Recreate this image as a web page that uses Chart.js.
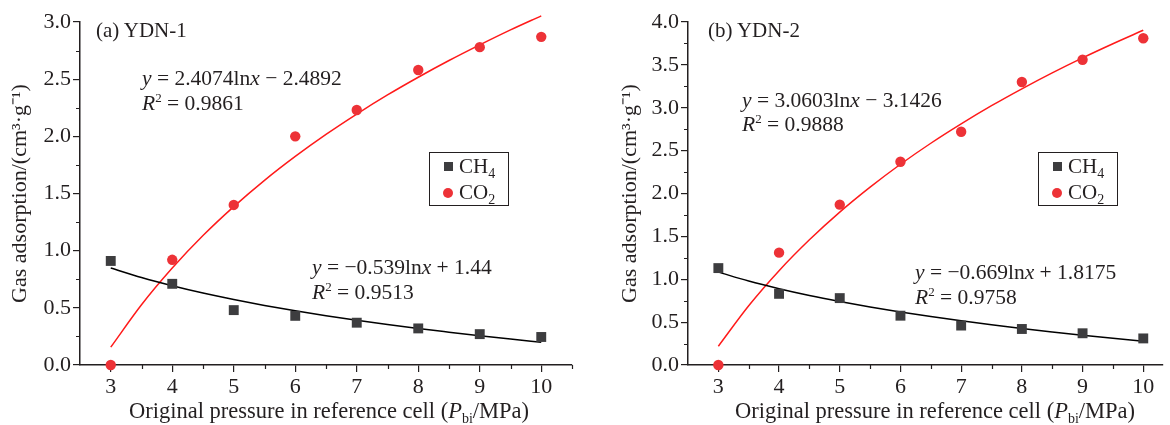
<!DOCTYPE html>
<html>
<head>
<meta charset="utf-8">
<script src="https://cdn.jsdelivr.net/npm/chart.js@4.4.1/dist/chart.umd.min.js"></script>
<style>
  body { margin: 0; width: 1170px; height: 425px; overflow: hidden; background: #fff; font-family: "Liberation Serif", "Times New Roman", serif; color: #231f20; }
  .panel { position: absolute; top: 0; height: 425px; }
  .txt { position: absolute; font-size: 21.5px; line-height: 24px; white-space: nowrap; }
  .txt.big { font-size: 22.5px; }
  .txt.lbl { font-size: 21px; }
  sup { font-size: 13px; vertical-align: 8px; line-height: 0; }
  sub { font-size: 14px; vertical-align: -5px; line-height: 0; }
  .legend { position: absolute; width: 78px; height: 52px; border: 1.5px solid #231f20; background: #fff; }
  .legend .row { position: absolute; left: 0; height: 24px; font-size: 21px; line-height: 24px; }
  .legend .mk { position: absolute; }
  .legend .sq { width: 9px; height: 9px; background: #3d3d3f; left: 14px; top: 8px; }
  .legend .ci { width: 10px; height: 10px; border-radius: 50%; background: #ed3237; left: 13px; top: 8px; }
  .legend .lab { position: absolute; left: 29px; top: 0; }
</style>
</head>
<body>
<div class="panel" style="left:0;width:590px"><canvas id="chart-a"></canvas></div>
<div class="panel" style="left:590px;width:580px"><canvas id="chart-b"></canvas></div>

<div class="txt lbl" style="left:96px;top:18px">(a) YDN-1</div>
<div class="txt" style="left:142px;top:66px"><i>y</i> = 2.4074ln<i>x</i> − 2.4892</div>
<div class="txt" style="left:142px;top:91px"><i>R</i><sup>2</sup> = 0.9861</div>
<div class="txt" style="left:312px;top:255px"><i>y</i> = −0.539ln<i>x</i> + 1.44</div>
<div class="txt" style="left:312px;top:280px"><i>R</i><sup>2</sup> = 0.9513</div>
<div class="legend" style="left:429px;top:152px">
  <div class="row" style="top:1px"><span class="mk sq"></span><span class="lab">CH<sub>4</sub></span></div>
  <div class="row" style="top:27px"><span class="mk ci"></span><span class="lab">CO<sub>2</sub></span></div>
</div>
<div class="txt big" style="left:329px;top:399px;transform:translateX(-50%)">Original pressure in reference cell (<i>P</i><sub>bi</sub>/MPa)</div>

<div class="txt lbl" style="left:708px;top:18px">(b) YDN-2</div>
<div class="txt" style="left:742px;top:88px"><i>y</i> = 3.0603ln<i>x</i> − 3.1426</div>
<div class="txt" style="left:742px;top:112px"><i>R</i><sup>2</sup> = 0.9888</div>
<div class="txt" style="left:915px;top:260px"><i>y</i> = −0.669ln<i>x</i> + 1.8175</div>
<div class="txt" style="left:915px;top:285px"><i>R</i><sup>2</sup> = 0.9758</div>
<div class="legend" style="left:1038px;top:152px">
  <div class="row" style="top:1px"><span class="mk sq"></span><span class="lab">CH<sub>4</sub></span></div>
  <div class="row" style="top:27px"><span class="mk ci"></span><span class="lab">CO<sub>2</sub></span></div>
</div>
<div class="txt big" style="left:935px;top:399px;transform:translateX(-50%)">Original pressure in reference cell (<i>P</i><sub>bi</sub>/MPa)</div>

<script>
// measured points (pressure in MPa -> adsorption cm3/g)
const pressures = [3, 4, 5, 6, 7, 8, 9, 10];
const ch4A = [0.91, 0.71, 0.48, 0.43, 0.37, 0.32, 0.27, 0.245];
const co2A = [0.0, 0.92, 1.40, 2.00, 2.23, 2.58, 2.78, 2.87];
const ch4B = [1.13, 0.83, 0.78, 0.575, 0.46, 0.42, 0.37, 0.31];
const co2B = [0.0, 1.31, 1.87, 2.37, 2.72, 3.30, 3.56, 3.81];

// fitted log curves, read at half-MPa steps
const fitX = [3, 3.5, 4, 4.5, 5, 5.5, 6, 6.5, 7, 7.5, 8, 8.5, 9, 9.5, 10];
const ch4FitA = [0.848, 0.765, 0.693, 0.629, 0.573, 0.521, 0.474, 0.431, 0.391, 0.354, 0.319, 0.287, 0.256, 0.227, 0.199];
const co2FitA = [0.156, 0.527, 0.848, 1.132, 1.385, 1.615, 1.824, 2.017, 2.195, 2.362, 2.517, 2.663, 2.800, 2.931, 3.054];
const ch4FitB = [1.083, 0.979, 0.890, 0.811, 0.741, 0.677, 0.619, 0.565, 0.516, 0.470, 0.426, 0.386, 0.348, 0.311, 0.277];
const co2FitB = [0.219, 0.691, 1.100, 1.460, 1.783, 2.074, 2.341, 2.586, 2.812, 3.024, 3.221, 3.407, 3.582, 3.747, 3.904];

const xTicks = [3, 4, 5, 6, 7, 8, 9, 10];
const xMinorA = [3.5, 4.5, 5.5, 6.5, 7.5, 8.5, 9.5, 10.5];
const xMinorB = [3.5, 4.5, 5.5, 6.5, 7.5, 8.5, 9.5];
const yTicksA = [0, 0.5, 1.0, 1.5, 2.0, 2.5, 3.0];
const yMinorA = [0.25, 0.75, 1.25, 1.75, 2.25, 2.75];
const yTicksB = [0, 0.5, 1.0, 1.5, 2.0, 2.5, 3.0, 3.5, 4.0];
const yMinorB = [0.25, 0.75, 1.25, 1.75, 2.25, 2.75, 3.25, 3.75];

const INK = "#231f20";
const FONT = "'Liberation Serif', 'Times New Roman', serif";

const minorTicks = {
  id: "minorTicks",
  afterDraw(chart, args, opts) {
    const { ctx, scales: { x, y } } = chart;
    ctx.save();
    ctx.strokeStyle = INK;
    ctx.lineWidth = 1.2;
    ctx.beginPath();
    for (const v of opts.x) {
      const px = Math.round(x.getPixelForValue(v)) + 0.5;
      ctx.moveTo(px, x.top); ctx.lineTo(px, x.top + 4);
    }
    for (const v of opts.y) {
      const py = Math.round(y.getPixelForValue(v)) + 0.5;
      ctx.moveTo(y.right, py); ctx.lineTo(y.right - 4, py);
    }
    ctx.stroke();
    ctx.restore();
  }
};

function pts(xs, ys) { return xs.map((x, i) => ({ x, y: ys[i] })); }

function drawPanel(id, p) {
  new Chart(document.getElementById(id), {
    type: "scatter",
    data: {
      datasets: [
        { data: pts(pressures, p.ch4), pointStyle: "rect", pointRadius: 7, backgroundColor: "#3d3d3f", borderWidth: 0, clip: false },
        { data: pts(pressures, p.co2), pointStyle: "circle", pointRadius: 5.2, backgroundColor: "#ed3237", borderWidth: 0, clip: false },
        { type: "line", data: pts(fitX, p.ch4Fit), borderColor: "#000", borderWidth: 1.5, pointRadius: 0, cubicInterpolationMode: "monotone", fill: false, clip: false },
        { type: "line", data: pts(fitX, p.co2Fit), borderColor: "#ff1a1a", borderWidth: 1.5, pointRadius: 0, cubicInterpolationMode: "monotone", fill: false, clip: false },
      ],
    },
    options: {
      responsive: true,
      maintainAspectRatio: false,
      animation: false,
      layout: { padding: { left: 0, top: 22, right: p.padRight, bottom: 0 } },
      plugins: { legend: { display: false }, tooltip: { enabled: false }, minorTicks: { x: p.xMinor, y: p.yMinor } },
      scales: {
        x: {
          type: "linear", min: 2.5, max: p.xMax,
          afterBuildTicks: s => { s.ticks = xTicks.map(value => ({ value })); },
          afterFit: s => { s.height = 60; },
          grid: { drawOnChartArea: false, drawTicks: true, tickLength: 7, color: INK, lineWidth: 1.2 },
          border: { display: true, color: INK, width: 1.5 },
          ticks: { color: INK, font: { family: FONT, size: 22 }, padding: 2, maxRotation: 0 },
        },
        y: {
          type: "linear", min: 0, max: p.yMax,
          afterBuildTicks: s => { s.ticks = p.yTicks.map(value => ({ value })); },
          afterFit: s => { s.width = p.yWidth; },
          grid: { drawOnChartArea: false, drawTicks: true, tickLength: 7, color: INK, lineWidth: 1.2 },
          border: { display: true, color: INK, width: 1.5 },
          ticks: { color: INK, font: { family: FONT, size: 22 }, padding: 2, callback: v => v.toFixed(1) },
          title: { display: true, text: "Gas adsorption/(cm³·g⁻¹)", color: INK, font: { family: FONT, size: 22 }, padding: { top: p.titlePad, bottom: 0 } },
        },
      },
    },
    plugins: [minorTicks],
  });
}

drawPanel("chart-a", { ch4: ch4A, co2: co2A, ch4Fit: ch4FitA, co2Fit: co2FitA, xMax: 10.5, yMax: 3, yTicks: yTicksA, xMinor: xMinorA, yMinor: yMinorA, yWidth: 80, padRight: 18, titlePad: 7 });
drawPanel("chart-b", { ch4: ch4B, co2: co2B, ch4Fit: ch4FitB, co2Fit: co2FitB, xMax: 10.325, yMax: 4, yTicks: yTicksB, xMinor: xMinorB, yMinor: yMinorB, yWidth: 98, padRight: 0, titlePad: 27 });
</script>
</body>
</html>
